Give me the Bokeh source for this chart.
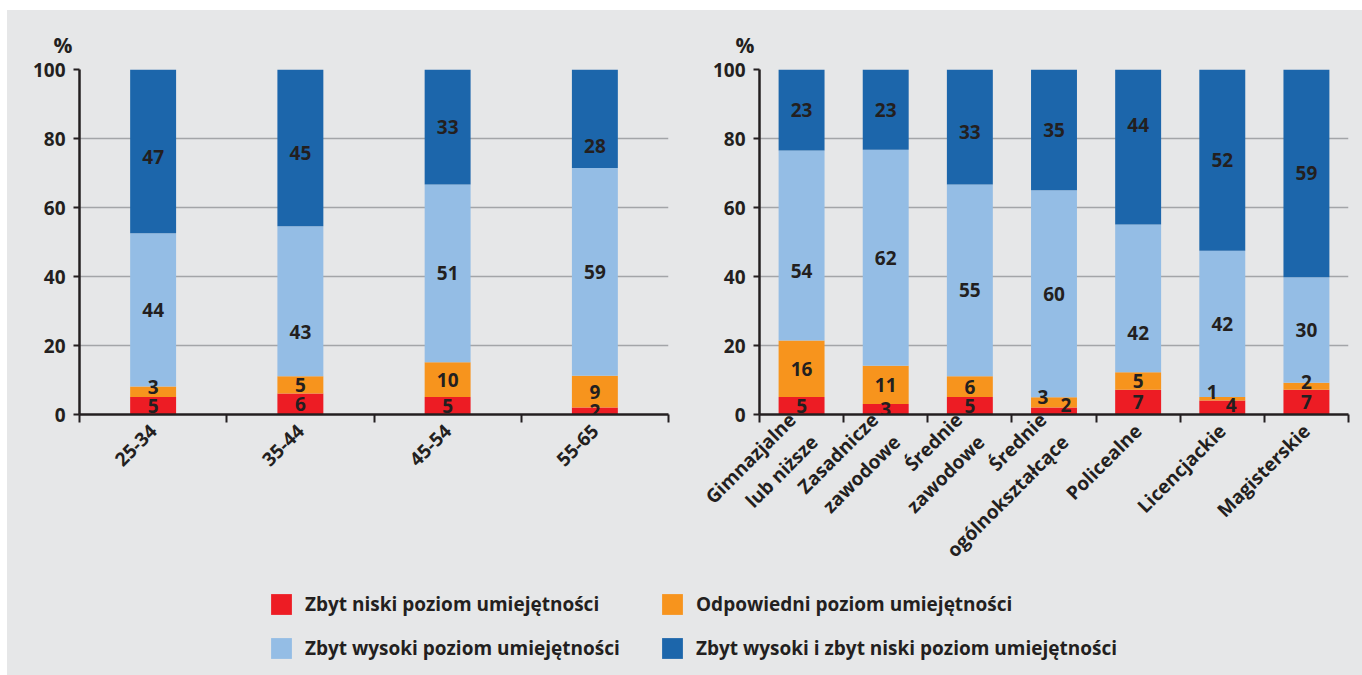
import math
from bokeh.plotting import figure
from bokeh.models import (ColumnDataSource, Range1d, FixedTicker, Legend,
                          LegendItem, Column, Row)
from bokeh.core.properties import value
from bokeh.embed import file_html
from bokeh.resources import INLINE

# ---------------- data ----------------
series_names = [
    "Zbyt niski poziom umiejętności",
    "Odpowiedni poziom umiejętności",
    "Zbyt wysoki poziom umiejętności",
    "Zbyt wysoki i zbyt niski poziom umiejętności",
]
age_groups = ["25-34", "35-44", "45-54", "55-65"]
age_low = [5, 6, 5, 2]
age_ok = [3, 5, 10, 9]
age_high = [44, 43, 51, 59]
age_both = [47, 45, 33, 28]

edu_groups = ["Gimnazjalne\nlub niższe", "Zasadnicze\nzawodowe", "Średnie\nzawodowe",
              "Średnie\nogólnokształcące", "Policealne", "Licencjackie", "Magisterskie"]
edu_low = [5, 3, 5, 2, 7, 4, 7]
edu_ok = [16, 11, 6, 3, 5, 1, 2]
edu_high = [54, 62, 55, 60, 42, 42, 30]
edu_both = [23, 23, 33, 35, 44, 52, 59]

# ---------------- style ----------------
BG = "#e6e7e8"
TXT = "#231f20"
COLORS = ["#ed1c24", "#f7941d", "#94bde5", "#1c66ab"]
FONT = "Open Sans"

# manual label nudges (screen px, dy positive = down): (panel, category index, series index)
label_nudge = {
    ("age", 0, 3): (0, 6), ("age", 0, 1): (0, -5),
    ("age", 1, 3): (0, 5), ("age", 1, 2): (0, 31),
    ("age", 3, 3): (0, 27),
    ("edu", 0, 2): (0, 25),
    ("edu", 2, 3): (0, 5), ("edu", 2, 2): (0, 10),
    ("edu", 3, 1): (-11, -5), ("edu", 3, 0): (12, -6),
    ("edu", 4, 3): (0, -22), ("edu", 4, 2): (0, 35),
    ("edu", 5, 1): (-10, -7), ("edu", 5, 0): (9, -3),
    ("edu", 6, 1): (0, -4),
}


def panel(key, cats, series, bar_w, width, bl, br, pct_dx):
    n = len(cats)
    p = figure(width=width, height=577, output_backend="svg", toolbar_location=None,
               x_range=Range1d(0, n), y_range=Range1d(0, 100),
               min_border_left=bl, min_border_right=br, min_border_top=59,
               min_border_bottom=173)
    p.background_fill_color = BG
    p.border_fill_color = BG
    p.outline_line_color = None
    p.xgrid.grid_line_color = None
    p.ygrid.grid_line_color = "#a3a5a8"
    p.ygrid.grid_line_width = 1.5
    p.ygrid.ticker = FixedTicker(ticks=[20, 40, 60, 80, 100])

    centers = [i + 0.5 for i in range(n)]
    totals = [sum(s[i] for s in series) for i in range(n)]
    bottoms = [0.0] * n
    tx, ty, tt, dx, dy = [], [], [], [], []
    for si, s in enumerate(series):
        share = [s[i] * 100.0 / totals[i] for i in range(n)]
        tops = [bottoms[i] + share[i] for i in range(n)]
        src = ColumnDataSource(dict(x=centers, bottom=list(bottoms), top=tops))
        p.vbar(x="x", bottom="bottom", top="top", width=bar_w, source=src,
               fill_color=COLORS[si], line_color=None)
        for i in range(n):
            tx.append(centers[i])
            ty.append((bottoms[i] + tops[i]) / 2)
            tt.append(str(s[i]))
            ndx, ndy = label_nudge.get((key, i, si), (0, 0))
            dx.append(ndx)
            dy.append(ndy)
        bottoms = tops
    lsrc = ColumnDataSource(dict(x=tx, y=ty, text=tt, dx=dx, dy=dy))
    p.text(x="x", y="y", text="text", x_offset="dx", y_offset="dy", source=lsrc,
           text_align="center", text_baseline="middle", text_color=TXT,
           text_font=value(FONT), text_font_style="bold", text_font_size="19px")

    # axes
    xa = p.xaxis[0]
    xa.ticker = FixedTicker(ticks=centers, minor_ticks=list(range(n + 1)))
    xa.major_label_overrides = {c: lab for c, lab in zip(centers, cats)}
    xa.major_label_orientation = math.pi / 4
    xa.major_tick_line_color = None
    xa.major_tick_out = 0
    xa.minor_tick_line_color = TXT
    xa.minor_tick_line_width = 2
    xa.minor_tick_out = 8
    xa.minor_tick_in = 0
    xa.axis_line_color = TXT
    xa.axis_line_width = 2.5
    xa.major_label_text_font = FONT
    xa.major_label_text_font_style = "bold"
    xa.major_label_text_font_size = "19px"
    xa.major_label_text_color = TXT
    xa.major_label_standoff = 5

    ya = p.yaxis[0]
    ya.ticker = FixedTicker(ticks=[0, 20, 40, 60, 80, 100], minor_ticks=[])
    ya.axis_line_color = TXT
    ya.axis_line_width = 2.5
    ya.major_tick_line_color = TXT
    ya.major_tick_line_width = 2
    ya.major_tick_out = 6
    ya.major_tick_in = 0
    ya.minor_tick_line_color = None
    ya.major_label_text_font = FONT
    ya.major_label_text_font_style = "bold"
    ya.major_label_text_font_size = "19px"
    ya.major_label_text_color = TXT
    ya.major_label_standoff = 8

    p.title.text = "%"
    p.title.align = "left"
    p.title.offset = pct_dx
    p.title.standoff = 22
    p.title.text_font = FONT
    p.title.text_font_style = "bold"
    p.title.text_font_size = "21px"
    p.title.text_color = TXT
    return p


p1 = panel("age", age_groups, [age_low, age_ok, age_high, age_both], 0.312,
           692, 72, 31, -26)
p2 = panel("edu", edu_groups, [edu_low, edu_ok, edu_high, edu_both], 0.546,
           663, 60, 14, -24)

# legend figure
pl = figure(width=1355, height=88, output_backend="svg", toolbar_location=None,
            x_range=Range1d(0, 1), y_range=Range1d(0, 1),
            x_axis_location=None, y_axis_location=None, min_border=0)
pl.background_fill_color = BG
pl.border_fill_color = BG
pl.outline_line_color = None
pl.xgrid.grid_line_color = None
pl.ygrid.grid_line_color = None
items = []
for name, c in zip(series_names, COLORS):
    r = pl.vbar(x=[-10], bottom=[0], top=[0], width=0.1, fill_color=c, line_color=None)
    items.append(LegendItem(label=name, renderers=[r]))
leg = Legend(items=items, orientation="horizontal", ncols=2, location=(261, 14),
             glyph_width=26, glyph_height=26, label_height=26, label_width=336,
             label_standoff=11, spacing=18, padding=0, margin=0,
             border_line_color=None, background_fill_alpha=0, label_text_font=FONT,
             label_text_font_style="bold", label_text_font_size="19px",
             label_text_color=TXT)
pl.add_layout(leg)

row = Row(p1, p2, spacing=0, styles={"background-color": BG})
layout = Column(row, pl, spacing=0, margin=(10, 0, 0, 7),
                styles={"background-color": BG})
open("out.html", "w").write(file_html(layout, INLINE))
